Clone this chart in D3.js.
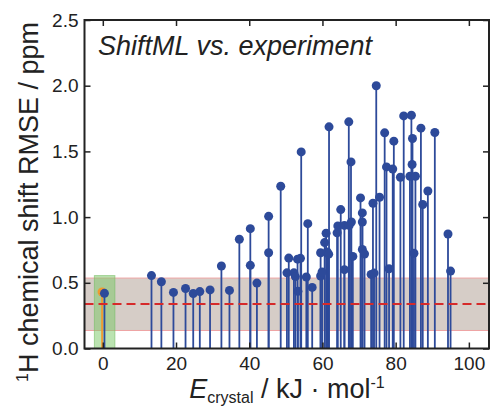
<!DOCTYPE html>
<html>
<head>
<meta charset="utf-8">
<script src="https://cdn.jsdelivr.net/npm/d3@7"></script>
<style>
  body { margin: 0; background: #fff; }
  svg { font-family: "Liberation Sans", Arial, sans-serif; }
</style>
</head>
<body>
<div id="chart"></div>
<script>
// crystal energies (kJ/mol) and 1H RMSE (ppm) per candidate structure
const energy = [0.45, 13.3, 16.0, 19.3, 22.6, 24.7, 26.5, 29.3, 32.4, 34.6, 37.3, 40.3, 40.3, 42.1,
  45.3, 45.3, 48.6, 50.3, 50.8, 52.2, 52.6, 53.3, 53.2, 54.0, 54.2, 55.6, 56.0, 57.2,
  59.5, 59.5, 59.9, 60.6, 61.0, 61.3, 61.7, 61.8, 64.0, 64.2, 65.0, 66.0, 66.0, 67.2,
  67.3, 67.8, 67.9, 68.3, 70.4, 70.9, 70.9, 70.9, 71.5, 73.3, 73.8, 74.1, 74.7, 75.6,
  77.0, 77.5, 78.2, 79.2, 79.5, 81.3, 82.2, 83.9, 84.3, 84.6, 84.5, 85.0, 85.4, 86.9,
  87.4, 88.8, 90.7, 94.3, 95.0];
const rmse = [0.42, 0.555, 0.508, 0.427, 0.457, 0.419, 0.433, 0.446, 0.628, 0.442, 0.831, 0.912, 0.633, 0.498,
  1.006, 0.729, 1.235, 0.576, 0.688, 0.576, 0.547, 0.435, 0.68, 0.686, 1.496, 0.544, 0.950, 0.465,
  0.729, 0.552, 0.582, 0.806, 0.877, 0.734, 0.718, 1.687, 0.880, 0.933, 1.057, 0.937, 0.600, 1.725,
  0.937, 1.420, 0.963, 0.701, 1.146, 1.032, 0.963, 0.754, 0.719, 0.564, 1.105, 0.574, 2.000, 1.151,
  1.641, 1.382, 0.607, 1.366, 1.578, 1.303, 1.770, 1.311, 1.775, 1.598, 1.400, 0.725, 1.311, 1.677,
  1.096, 1.199, 1.644, 0.871, 0.589];

// experimental structure (orange stem)
const refEnergy = [-0.2];
const refRmse = [0.43];

// shaded band, mean line and highlighted region
const bandRange = [0.137, 0.536];
const meanRmse = 0.338;
const greenX = [-2.3, 3.3];
const greenTop = 0.555;

const xTicks = [0, 20, 40, 60, 80, 100];
const yTicks = [0, 0.5, 1.0, 1.5, 2.0, 2.5];

const W = 492, H = 407;
const plotL = 84.5, plotR = 489, plotT = 20, plotB = 348.5;
const blue = "#2d4a9a";

const x = d3.scaleLinear().domain([-5, 105.5]).range([plotL, plotR]);
const y = d3.scaleLinear().domain([0, 2.5]).range([plotB, plotT]);

const svg = d3.select("#chart").append("svg")
  .attr("width", W)
  .attr("height", H);

// band
svg.append("rect")
  .attr("x", plotL).attr("width", plotR - plotL)
  .attr("y", y(bandRange[1])).attr("height", y(bandRange[0]) - y(bandRange[1]))
  .attr("fill", "#d6cdc7");
svg.selectAll("line.bandEdge")
  .data(bandRange)
  .join("line")
  .attr("class", "bandEdge")
  .attr("x1", plotL).attr("x2", plotR)
  .attr("y1", d => y(d)).attr("y2", d => y(d))
  .attr("stroke", "#eea3a3").attr("stroke-width", 1);

// green region
svg.append("rect")
  .attr("x", x(greenX[0])).attr("width", x(greenX[1]) - x(greenX[0]))
  .attr("y", y(greenTop)).attr("height", y(0) - y(greenTop))
  .attr("fill", "rgb(120,200,100)").attr("fill-opacity", 0.5)
  .attr("stroke", "rgb(120,190,100)").attr("stroke-opacity", 0.6);

// reference stem
svg.selectAll("line.ref")
  .data(refEnergy)
  .join("line")
  .attr("class", "ref")
  .attr("x1", d => x(d)).attr("x2", d => x(d))
  .attr("y1", y(0)).attr("y2", (d, i) => y(refRmse[i]))
  .attr("stroke", "#f09a30").attr("stroke-width", 1.8);
svg.selectAll("circle.ref")
  .data(refEnergy)
  .join("circle")
  .attr("class", "ref")
  .attr("cx", d => x(d)).attr("cy", (d, i) => y(refRmse[i]))
  .attr("r", 4.5).attr("fill", "#f09a30");

// stems
svg.append("g")
  .selectAll("line")
  .data(energy)
  .join("line")
  .attr("x1", d => x(d)).attr("x2", d => x(d))
  .attr("y1", y(0)).attr("y2", (d, i) => y(rmse[i]))
  .attr("stroke", blue).attr("stroke-width", 1.8);

// mean line
svg.append("line")
  .attr("x1", plotL).attr("x2", plotR)
  .attr("y1", y(meanRmse)).attr("y2", y(meanRmse))
  .attr("stroke", "#d62a2a").attr("stroke-width", 2)
  .attr("stroke-dasharray", "9,5");

svg.append("g")
  .selectAll("circle")
  .data(energy)
  .join("circle")
  .attr("cx", d => x(d)).attr("cy", (d, i) => y(rmse[i]))
  .attr("r", 4.5).attr("fill", blue);

// axes, ticks pointing inward
const fmtY = d3.format(".1f");
const axB = svg.append("g").attr("transform", `translate(0,${plotB})`)
  .call(d3.axisBottom(x).tickValues(xTicks).tickSize(-6).tickPadding(8));
const axT = svg.append("g").attr("transform", `translate(0,${plotT})`)
  .call(d3.axisTop(x).tickValues(xTicks).tickSize(-6).tickFormat(""));
const axL = svg.append("g").attr("transform", `translate(${plotL},0)`)
  .call(d3.axisLeft(y).tickValues(yTicks).tickSize(-6).tickPadding(6).tickFormat(fmtY));
const axR = svg.append("g").attr("transform", `translate(${plotR},0)`)
  .call(d3.axisRight(y).tickValues(yTicks).tickSize(-6).tickFormat(""));

[axB, axT, axL, axR].forEach(a => {
  a.select(".domain").remove();
  a.selectAll(".tick line").attr("stroke", "#222").attr("stroke-width", 1.5);
  a.selectAll("text").attr("font-size", 19).attr("fill", "#222")
    .attr("font-family", "Liberation Sans, Arial, sans-serif");
});

svg.append("rect")
  .attr("x", plotL).attr("y", plotT)
  .attr("width", plotR - plotL).attr("height", plotB - plotT)
  .attr("fill", "none").attr("stroke", "#222").attr("stroke-width", 2);

// title
svg.append("text")
  .attr("x", 98).attr("y", 55)
  .attr("font-size", 27).attr("font-style", "italic").attr("fill", "#222")
  .text("ShiftML vs. experiment");

// y label
const yl = svg.append("text")
  .attr("transform", "translate(38,202) rotate(-90)")
  .attr("text-anchor", "middle")
  .attr("font-size", 27).attr("fill", "#222");
yl.append("tspan").attr("font-size", 16).attr("dy", -10).text("1");
yl.append("tspan").attr("dy", 10).text("H chemical shift RMSE / ppm");

// x label
const xl = svg.append("text")
  .attr("x", 287).attr("y", 398)
  .attr("text-anchor", "middle")
  .attr("font-size", 27).attr("fill", "#222");
xl.append("tspan").attr("font-style", "italic").text("E");
xl.append("tspan").attr("font-size", 16).attr("dy", 5).text("crystal");
xl.append("tspan").attr("dy", -5).text(" / kJ · mol");
xl.append("tspan").attr("font-size", 16).attr("dy", -10).text("-1");
</script>
</body>
</html>
